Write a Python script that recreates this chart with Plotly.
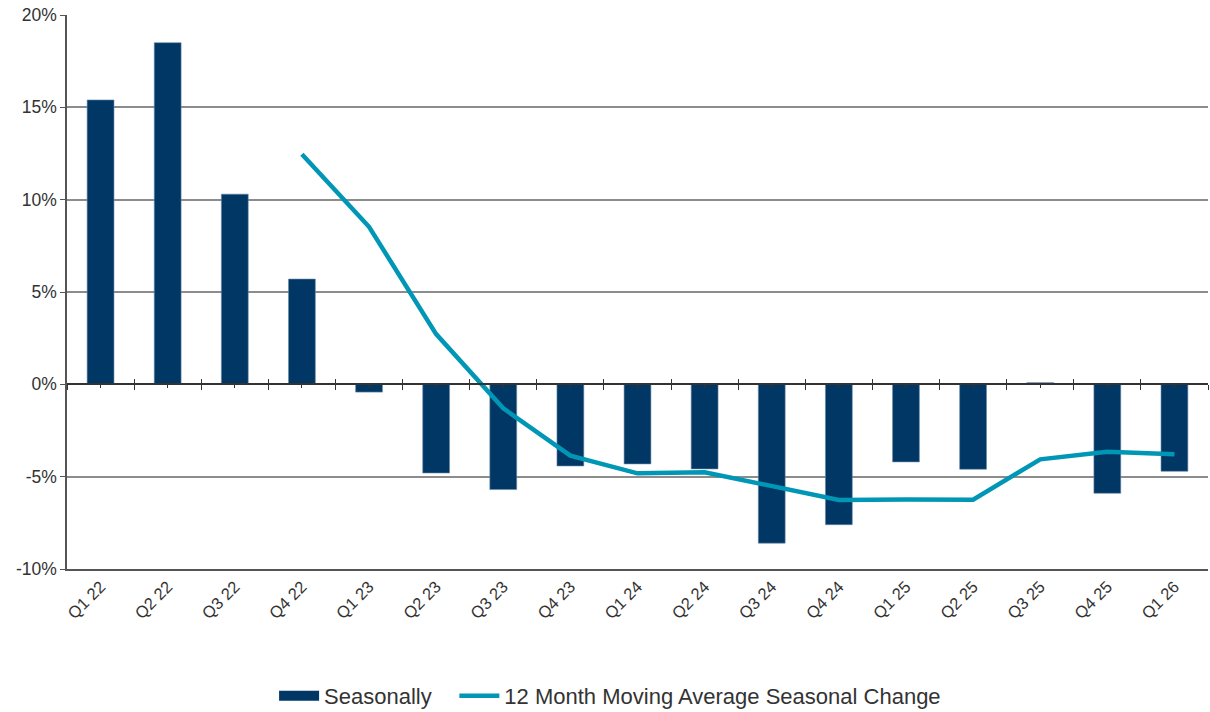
import plotly.graph_objects as go

categories = ["Q1 22", "Q2 22", "Q3 22", "Q4 22", "Q1 23", "Q2 23", "Q3 23", "Q4 23",
              "Q1 24", "Q2 24", "Q3 24", "Q4 24", "Q1 25", "Q2 25", "Q3 25", "Q4 25", "Q1 26"]
seasonally = [15.4, 18.5, 10.3, 5.7, -0.42, -4.8, -5.7, -4.42,
              -4.31, -4.58, -8.6, -7.6, -4.2, -4.6, 0.09, -5.9, -4.71]
moving_avg = [None, None, None, 12.46, 8.53, 2.72, -1.3, -3.86,
              -4.82, -4.76, -5.54, -6.26, -6.24, -6.25, -4.06, -3.65, -3.79]
y_ticks = [-10, -5, 0, 5, 10, 15, 20]
y_labels = ["-10%", "-5%", "0%", "5%", "10%", "15%", "20%"]

BAR = "#003764"
LINE = "#0096B5"
TXT = "#333333"
FONT = "Liberation Sans, Arial, sans-serif"

fig = go.Figure()
# legend-only swatch for the bars (wide rectangle like the reference)
fig.add_trace(go.Scatter(x=[None], y=[None], mode="lines", name="Seasonally",
                         line=dict(color=BAR, width=11), hoverinfo="skip", legend="legend"))
fig.add_trace(go.Bar(x=categories, y=seasonally, name="Seasonally", showlegend=False,
                     marker=dict(color=BAR, line=dict(color="#6a8aa8", width=0.6))))
fig.add_trace(go.Scatter(x=categories, y=moving_avg, mode="lines",
                         name="12 Month Moving Average Seasonal Change",
                         line=dict(color=LINE, width=4.5), legend="legend2"))
# helper invisible traces for zero-line axes with crossing ticks
for ax in ["x2", "x3", "x4"]:
    fig.add_trace(go.Scatter(x=categories, y=[0] * len(categories), xaxis=ax, yaxis="y",
                             mode="lines", line=dict(width=0, color="rgba(0,0,0,0)"),
                             showlegend=False, hoverinfo="skip"))

zero_pos = (0 - y_ticks[0]) / (y_ticks[-1] - y_ticks[0])

leg_common = dict(orientation="h", xanchor="left", yref="container", y=0.0225,
                  yanchor="middle", font=dict(size=22, color=TXT), itemwidth=40,
                  bgcolor="rgba(0,0,0,0)")

fig.update_layout(
    width=1210, height=712,
    margin=dict(l=67, r=2, t=15, b=143),
    plot_bgcolor="white", paper_bgcolor="white",
    font=dict(family=FONT, color=TXT),
    bargap=0.6,
    showlegend=True,
    legend=dict(x=0.1815, **leg_common),
    legend2=dict(x=0.3395, **leg_common),
    xaxis=dict(type="category", categoryorder="array", categoryarray=categories,
               tickangle=-45, tickfont=dict(size=16.5, color=TXT), ticks="",
               showline=True, linecolor="#555555", linewidth=1.5, showgrid=False,
               automargin=False, range=[-0.5, len(categories) - 0.5]),
    xaxis2=dict(type="category", overlaying="x", matches="x", anchor="free", position=zero_pos,
                showticklabels=False, ticks="outside", tickson="boundaries", ticklen=5,
                tickcolor="#333333", tickwidth=1.3, showline=True, linecolor="#333333",
                linewidth=1.5, showgrid=False, automargin=False),
    xaxis3=dict(type="category", overlaying="x", matches="x", anchor="free", position=zero_pos,
                showticklabels=False, ticks="inside", tickson="boundaries", ticklen=5,
                tickcolor="#333333", tickwidth=1.3, showline=False, showgrid=False,
                automargin=False),
    xaxis4=dict(type="category", overlaying="x", matches="x", anchor="free", position=zero_pos,
                showticklabels=False, ticks="outside", ticklen=3,
                tickcolor="#333333", tickwidth=1, showline=False, showgrid=False,
                automargin=False),
    yaxis=dict(range=[y_ticks[0], y_ticks[-1]], tickvals=y_ticks, ticktext=y_labels,
               tickfont=dict(size=17.5, color=TXT), ticks="outside", ticklen=5,
               tickcolor="#555555", showline=True, linecolor="#555555", linewidth=1.5,
               showgrid=True, gridcolor="#8c8c8c", gridwidth=1.5, zeroline=False,
               automargin=False),
)

fig.write_html("out.html", config={"displayModeBar": False},
               post_script="document.body.style.margin='0';")
